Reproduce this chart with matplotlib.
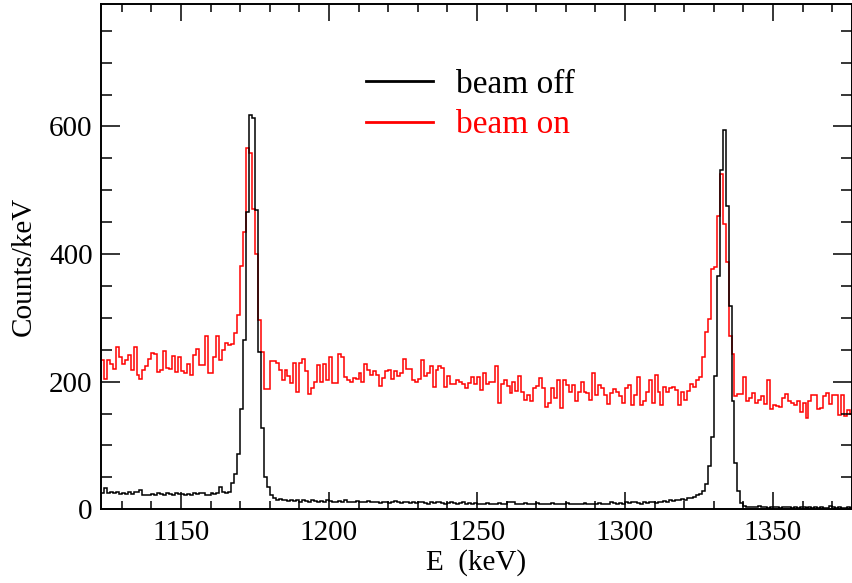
import numpy as np
import matplotlib.pyplot as plt
from matplotlib.lines import Line2D
from matplotlib.ticker import MultipleLocator

plt.rcParams["font.family"] = ["Liberation Serif", "DejaVu Serif"]

# first bin starts at 1123 keV, 1 keV bins
e_start = 1123

# beam on (red), counts per keV bin
red_counts = [
    234, 204, 234, 227, 220, 255, 239, 227, 234, 242,
    219, 254, 210, 205, 218, 225, 236, 245, 244, 215,
    219, 248, 221, 220, 240, 215, 238, 216, 213, 227,
    210, 242, 252, 226, 226, 271, 213, 213, 239, 272,
    234, 249, 260, 257, 259, 276,
    304, 382, 434, 566, 559, 470, 400, 297,
    247, 188, 188, 233, 233, 230, 219, 203, 218, 209,
    198, 229, 184, 229, 235, 217, 181, 190, 200, 226,
    200, 227, 203, 239, 198, 198, 243, 239, 208, 203,
    200, 206, 205, 214, 199, 227, 218, 211, 216, 210,
    193, 206, 217, 218, 204, 216, 209, 214, 235, 220,
    220, 203, 200, 204, 234, 209, 213, 224, 192, 219,
    224, 222, 191, 209, 197, 197, 202, 200, 196, 190,
    198, 207, 196, 207, 187, 214, 197, 200, 200, 224,
    167, 197, 202, 193, 183, 200, 185, 209, 184, 171,
    179, 169, 190, 193, 206, 190, 161, 166, 190, 174,
    203, 158, 202, 195, 184, 195, 169, 184, 199, 184,
    182, 171,
    213, 179, 195, 190, 179, 165, 182, 189, 184, 177,
    166, 190, 195, 163, 179, 208, 163, 169, 184, 203,
    166, 210, 184, 163, 192, 184, 190, 191, 187, 163,
    184, 171, 186, 197, 191, 202, 208, 239, 278,
    299, 377, 380, 460, 525, 447, 388, 272,
    244, 177, 180, 180, 208, 169, 174, 182, 166, 171,
    178, 165, 203, 157, 163, 162, 160, 174, 181, 169,
    167, 163, 169, 153, 166, 143, 170, 179, 179, 157,
    158, 177, 182, 165, 179, 179, 148, 179, 146, 155,
    150,
]

# beam off (black)
black_counts = [
    25, 33, 25, 27, 26, 27, 24, 26, 24, 27,
    24, 27, 27, 31, 23, 22, 23, 24, 23, 26,
    24, 23, 26, 24, 23, 25, 24, 24, 23, 24,
    23, 25, 24, 26, 25, 23, 22, 25, 24, 25,
    35, 27, 26, 27, 42, 55, 86, 157,
    266, 466, 618, 614, 469, 247, 127,
    51, 35, 22, 17, 15, 16, 14, 15, 13, 14,
    13, 15, 12, 14, 13, 12, 14, 13, 12, 13,
    12, 14, 13, 12, 11, 13, 12, 14, 12, 11,
    12, 13, 11, 12, 11, 13, 12, 11, 12, 10,
    11, 12, 10, 11, 13, 11, 10, 11, 12, 10,
    11, 10, 12, 11, 10, 9, 11, 10, 11, 12,
    10, 9, 10, 11, 10, 9, 10, 11, 9, 10,
    9, 10, 9, 8, 9, 10, 9, 8, 9, 10,
    9, 8, 12, 11, 12, 9, 8, 9, 10, 9,
    8, 9, 10, 8, 9, 8, 9, 10, 9, 8,
    9, 8, 10, 9, 8, 9, 8, 9, 10, 9,
    8, 9, 8, 10, 9, 8, 9, 11, 10, 9,
    10, 9, 11, 10, 12, 11, 10, 9, 11, 10,
    12, 11, 10, 12, 11, 13, 12, 14, 13, 15,
    14, 16, 15, 18, 17, 19, 22, 24,
    28, 39, 68, 114, 209, 366, 532, 594, 475, 318,
    170, 72, 28, 10, 5,
    4, 3, 4, 3, 5, 4, 3, 2, 3, 4,
    3, 2, 3, 4, 3, 2, 3, 2, 3, 3,
    2, 3, 2, 3, 2, 3, 2, 2, 5, 3,
    2, 3, 2, 2, 3, 2,
]

labels = ["beam off", "beam on"]
colors = ["black", "#ff0000"]

fig = plt.figure(figsize=(8.52, 5.83), dpi=100)
ax = fig.add_axes([101 / 852, 73.7 / 583, 751 / 852, 505.3 / 583])

red_edges = np.arange(e_start, e_start + len(red_counts) + 1)
black_edges = np.arange(e_start, e_start + len(black_counts) + 1)
ax.stairs(red_counts, red_edges, color=colors[1], lw=1.1, baseline=None)
ax.stairs(black_counts, black_edges, color=colors[0], lw=1.1, baseline=None)

ax.set_xlim(1123, 1376.7)
ax.set_ylim(0, 792)
ax.xaxis.set_major_locator(MultipleLocator(50))
ax.xaxis.set_minor_locator(MultipleLocator(10))
ax.yaxis.set_major_locator(MultipleLocator(200))
ax.yaxis.set_minor_locator(MultipleLocator(50))
ax.tick_params(which="both", direction="in", top=True, right=True,
               labelsize=21, width=1.1)
ax.tick_params(axis="y", which="major", length=14, pad=6)
ax.tick_params(axis="y", which="minor", length=8)
ax.tick_params(axis="x", which="major", length=12, pad=8)
ax.tick_params(axis="x", which="minor", length=6)
for s in ax.spines.values():
    s.set_linewidth(1.4)

ax.set_xlabel("E  (keV)", fontsize=21, labelpad=2)
ax.set_ylabel("Counts/keV", fontsize=21, labelpad=8)
ax.yaxis.set_label_coords(-0.085, 0.48)

handles = [Line2D([], [], color=c, lw=2) for c in colors]
ax.legend(handles, labels, loc="upper left", bbox_to_anchor=(0.313, 0.93),
          frameon=False, fontsize=24, handlelength=2.0, handletextpad=0.7,
          labelspacing=0.3, labelcolor=colors)

fig.savefig("out.png", dpi=100)
